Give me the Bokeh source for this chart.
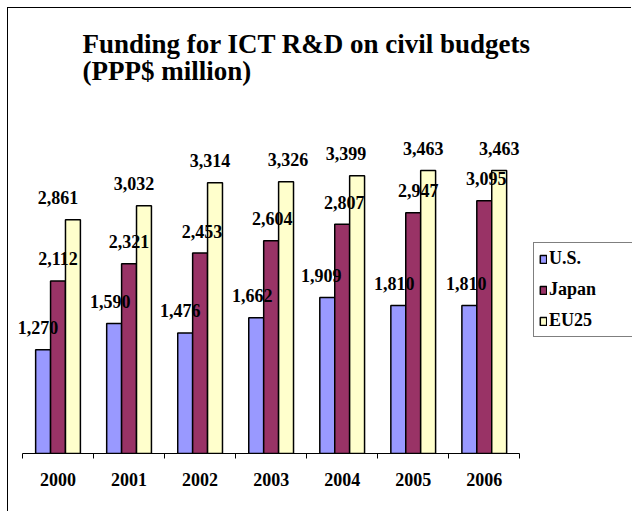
from bokeh.plotting import figure
from bokeh.models import (ColumnDataSource, Range1d, LinearAxis, FixedTicker,
                          Legend, LegendItem, Label)
from bokeh.transform import dodge
from bokeh.core.properties import value
from bokeh.embed import file_html
from bokeh.resources import INLINE

# ---- data ----
years = [2000, 2001, 2002, 2003, 2004, 2005, 2006]
us = [1270, 1590, 1476, 1662, 1909, 1810, 1810]
japan = [2112, 2321, 2453, 2604, 2807, 2947, 3095]
eu25 = [2861, 3032, 3314, 3326, 3399, 3463, 3463]
series_names = ["U.S.", "Japan", "EU25"]
year_labels = [str(y) for y in years]
title_lines = ["Funding for ICT R&D on civil budgets", "(PPP$ million)"]

# ---- style ----
colors = ["#9999FF", "#993366", "#FFFFCC"]
bar_w = 0.21
offsets = [-0.21, 0.0, 0.21]
label_dx = {
    "U.S.": [-5, -4, -5, -4, -6, -4, -3],
    "Japan": [0, 0, 2, 1, 2, 5, 2],
    "EU25": [-15, -10, -5, 2, -11, -5, 0],
}
FONT = "'Liberation Serif', 'Times New Roman', serif"

W, H = 624, 504
AXIS_LEFT = 14      # px from canvas left to the first category boundary
BB = 59
px_per_year = 71.04
px_per_unit = 0.0817

src = ColumnDataSource(dict(
    year=years,
    us=us, japan=japan, eu25=eu25,
    us_lbl=[f"{v:,}" for v in us],
    japan_lbl=[f"{v:,}" for v in japan],
    eu25_lbl=[f"{v:,}" for v in eu25],
    us_dx=label_dx["U.S."], japan_dx=label_dx["Japan"], eu25_dx=label_dx["EU25"],
))

x0 = years[0] - 0.5
xs = x0 - AXIS_LEFT / px_per_year
p = figure(width=W, height=H, output_backend="svg", toolbar_location=None,
           x_range=Range1d(xs, xs + W / px_per_year),
           y_range=Range1d(0, (H - BB) / px_per_unit),
           x_axis_location=None, y_axis_location=None,
           min_border_left=0, min_border_right=0,
           min_border_top=0, min_border_bottom=BB)
p.styles = {"margin-left": "7px", "margin-top": "7px",
            "border-left": "1px solid black", "border-top": "1px solid black"}
p.xgrid.visible = False
p.ygrid.visible = False
p.outline_line_color = None
p.background_fill_color = "white"
p.border_fill_color = "white"

# axis: labels at category centres, ticks at category boundaries
bounds = [y - 0.5 for y in years] + [years[-1] + 0.5]
xaxis = LinearAxis(ticker=FixedTicker(ticks=years, minor_ticks=bounds),
                   bounds=(bounds[0], bounds[-1]),
                   major_label_overrides={y: s for y, s in zip(years, year_labels)})
xaxis.axis_line_color = "black"
xaxis.axis_line_width = 1
xaxis.major_tick_line_color = None
xaxis.major_tick_out = 0
xaxis.major_tick_in = 0
xaxis.minor_tick_line_color = "black"
xaxis.minor_tick_out = 5
xaxis.minor_tick_in = 0
xaxis.major_label_standoff = 14
xaxis.major_label_text_font = FONT
xaxis.major_label_text_font_style = "bold"
xaxis.major_label_text_font_size = "18px"
xaxis.major_label_text_color = "black"
p.add_layout(xaxis, "below")

items = []
keys = ["us", "japan", "eu25"]
for name, key, col, off in zip(series_names, keys, colors, offsets):
    r = p.vbar(x=dodge("year", off, range=p.x_range), top=key, width=bar_w,
               source=src, fill_color=col, line_color="black", line_width=1.5)
    items.append(LegendItem(label=name, renderers=[r]))

for key, off in zip(keys, offsets):
    p.text(x=dodge("year", off, range=p.x_range), y=key, text=key + "_lbl",
           source=src, x_offset=key + "_dx", y_offset=-22,
           text_align="center", text_baseline="alphabetic",
           text_font=value(FONT), text_font_size="18px",
           text_font_style="bold", text_color="black")

legend = Legend(items=items, location=(525, 116), orientation="vertical",
                label_text_font=FONT, label_text_font_style="bold",
                label_text_font_size="18px", label_text_color="black",
                glyph_width=8, glyph_height=10, label_standoff=2,
                label_height=20, label_width=120, spacing=10, padding=5,
                margin=0, border_line_color="black", border_line_width=1,
                background_fill_color="white", background_fill_alpha=1)
p.add_layout(legend, "center")

# chart title (two lines), placed in screen units from the frame's bottom-left
for txt, yb in zip(title_lines, [410, 383]):
    p.add_layout(Label(x=74, y=yb, x_units="screen", y_units="screen",
                       text=txt, text_font=FONT, text_font_style="bold",
                       text_font_size="27px", text_color="black",
                       text_baseline="alphabetic", text_align="left"))

open("out.html", "w").write(file_html(p, INLINE))
